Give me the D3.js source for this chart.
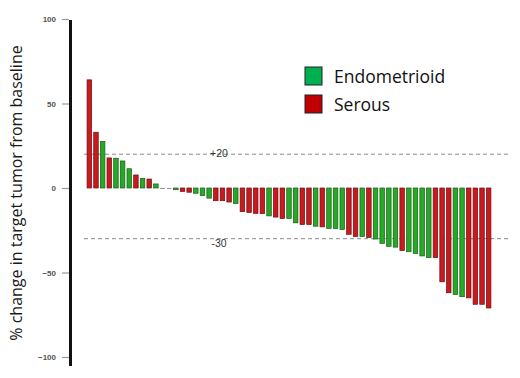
<!DOCTYPE html>
<html><head><meta charset="utf-8">
<script src="https://cdn.jsdelivr.net/npm/d3@7"></script>
<style>body{margin:0;background:#fff}svg{display:block}</style>
</head><body>
<svg id="c" width="520" height="378"></svg>
<script>
const patients = d3.range(1, 62).map(String);
const changes = [64, 33, 27.6, 17.8, 17.6, 16, 11.4, 7.7, 5.7, 5.3, 2.4, 0, 0, -1, -2, -2.5, -3.1, -4.5, -6, -7.5, -7.5, -8.3, -9.2,
  -14, -14.5, -15, -15.2, -16.5, -17.2, -18, -18, -20.6, -21.6, -21.6, -22.6, -23, -23.9, -23.9, -24.6,
  -27.4, -28.7, -28.7, -29.3, -30.2, -32.8, -34.5, -35, -37, -37.7, -38.7, -40.2, -41.2, -41.2,
  -55.5, -62, -63, -64.3, -65, -68.8, -68.8, -71];
const histology = ["S","S","E","S","E","E","E","S","E","S","E","E","E","E","S","S","E","E","E","S","S","S","E",
  "S","S","S","S","E","S","S","E","E","S","S","E","S","E","E","E",
  "S","S","E","S","E","E","E","E","S","E","E","E","E","S",
  "S","S","E","E","S","S","S","S"];
const yTicks = [100, 50, 0, -50, -100];
const refLines = [20, -30];
const refLabels = ["+20", "-30"];
const legendItems = ["Endometrioid", "Serous"];
const legendKeys = ["E", "S"];

const fill = {E: "#27a927", S: "#c81a1f"};
const stroke = {E: "#145f14", S: "#6e0c0e"};
const legendFill = {E: "#00b050", S: "#c00000"};

const svg = d3.select("#c");
const y = d3.scaleLinear().domain([-100, 100]).range([357, 19]);
const x = d3.scaleBand().domain(patients).range([86, 492]).paddingInner(0.32).paddingOuter(0.16);

svg.selectAll("line.ref").data(refLines).join("line")
  .attr("x1", 84).attr("x2", 509)
  .attr("y1", d => y(d)).attr("y2", d => y(d))
  .attr("stroke", "#8a8a8a").attr("stroke-width", 1).attr("stroke-dasharray", "4,3");

svg.selectAll("rect.bar").data(changes).join("rect")
  .attr("x", (d, i) => x(patients[i]))
  .attr("width", x.bandwidth())
  .attr("y", d => Math.min(y(d), y(0)))
  .attr("height", d => Math.max(0.8, Math.abs(y(d) - y(0))))
  .attr("fill", (d, i) => d === 0 ? "#777" : fill[histology[i]])
  .attr("stroke", (d, i) => d === 0 ? "none" : stroke[histology[i]])
  .attr("stroke-width", 0.7);

svg.selectAll("text.ref").data(refLines).join("text")
  .attr("x", 219)
  .attr("y", (d, i) => y(d) + (i === 0 ? 3 : 8))
  .attr("text-anchor", "middle")
  .attr("font-family", "Liberation Sans, Arial, sans-serif")
  .attr("font-size", 10.5)
  .attr("fill", "#333")
  .text((d, i) => refLabels[i]);

const axis = d3.axisLeft(y).tickValues(yTicks).tickSize(7).tickPadding(6).tickFormat(d3.format("d"));
const g = svg.append("g").attr("transform", "translate(69,0)").call(axis);
g.select(".domain").remove();
g.selectAll(".tick line").attr("stroke", "#999").attr("stroke-width", 1.2);
g.selectAll(".tick text").attr("font-family", "Liberation Sans, Arial, sans-serif")
  .attr("font-size", 8).attr("font-weight", "bold").attr("fill", "#555");
svg.append("line").attr("x1", 70.5).attr("x2", 70.5).attr("y1", 20).attr("y2", 366)
  .attr("stroke", "#111").attr("stroke-width", 3);

svg.append("text")
  .attr("transform", "translate(22,193) rotate(-90)")
  .attr("text-anchor", "middle")
  .attr("font-family", "Open Sans, sans-serif")
  .attr("font-size", 16)
  .attr("fill", "#1a1a1a")
  .text("% change in target tumor from baseline");

const lg = svg.selectAll("g.leg").data(legendItems).join("g")
  .attr("transform", (d, i) => `translate(305,${67 + i * 28})`);
lg.append("rect").attr("width", 17).attr("height", 18)
  .attr("fill", (d, i) => legendFill[legendKeys[i]])
  .attr("stroke", "#222").attr("stroke-width", 1);
lg.append("text").attr("x", 29).attr("y", 15.5)
  .attr("font-family", "Open Sans, sans-serif").attr("font-size", 17.5).attr("fill", "#111")
  .text(d => d);
</script>
</body></html>
